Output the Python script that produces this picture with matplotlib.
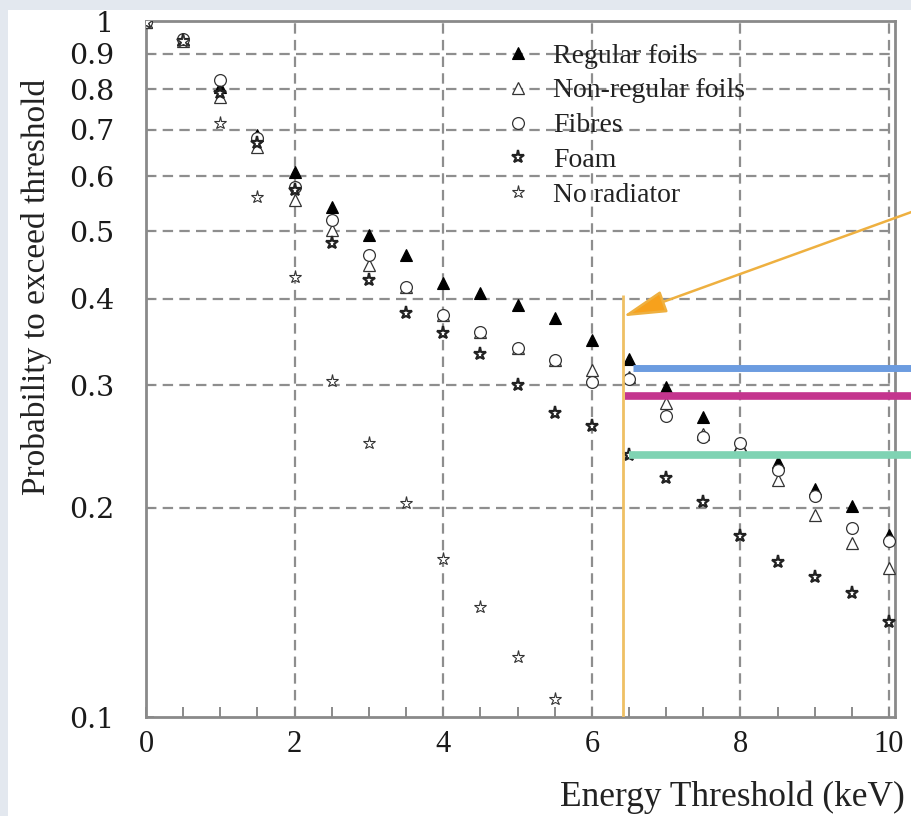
import matplotlib
matplotlib.use("Agg")
import matplotlib.pyplot as plt
from matplotlib.patches import Rectangle

# Energy thresholds (keV)
energy = [0.0, 0.5, 1.0, 1.5, 2.0, 2.5, 3.0, 3.5, 4.0, 4.5, 5.0,
          5.5, 6.0, 6.5, 7.0, 7.5, 8.0, 8.5, 9.0, 9.5, 10.0]

regular_foils = [1.0, 0.945, 0.806, 0.688, 0.609, 0.541, 0.494, 0.462, 0.421, 0.407, 0.392,
                 0.375, 0.349, 0.327, 0.298, 0.270, 0.246, 0.233, 0.213, 0.201, 0.183]
non_regular_foils = [1.0, 0.940, 0.780, 0.661, 0.554, 0.502, 0.447, 0.416, 0.379, 0.358, 0.340,
                     0.326, 0.316, 0.308, 0.283, 0.255, 0.245, 0.219, 0.195, 0.178, 0.164]
fibres = [1.0, 0.945, 0.825, 0.680, 0.579, 0.519, 0.462, 0.416, 0.379, 0.358, 0.340,
          0.326, 0.303, 0.306, 0.271, 0.253, 0.248, 0.227, 0.208, 0.187, 0.179]
foam = [1.0, 0.940, 0.790, 0.670, 0.573, 0.480, 0.425, 0.381, 0.357, 0.333, 0.300,
        0.274, 0.262, 0.238, 0.221, 0.204, 0.182, 0.167, 0.159, 0.151, 0.137]
# below 0.1 beyond 5.5 keV (off scale)
energy_no_rad = [0.0, 0.5, 1.0, 1.5, 2.0, 2.5, 3.0, 3.5, 4.0, 4.5, 5.0, 5.5]
no_radiator = [1.0, 0.940, 0.716, 0.560, 0.430, 0.304, 0.248, 0.203, 0.169, 0.144, 0.122, 0.106]

y_ticks = [0.1, 0.2, 0.3, 0.4, 0.5, 0.6, 0.7, 0.8, 0.9, 1.0]
y_tick_labels = ["0.1", "0.2", "0.3", "0.4", "0.5", "0.6", "0.7", "0.8", "0.9", "1"]
x_ticks = [0, 2, 4, 6, 8, 10]

# Threshold marker and reference levels
threshold_x = 6.42
threshold_top = 0.405
level_blue = 0.318
level_magenta = 0.290
level_green = 0.238

plt.rcParams["lines.scale_dashes"] = False

fig = plt.figure(figsize=(9.11, 8.16), dpi=100, facecolor="white")
W, H = 911, 816
ax = fig.add_axes([146 / W, 1 - 717 / H, (895 - 146) / W, (717 - 21) / H])

# light frame strips around the panel
for (x0, y0, w, h) in [(0, 808, 911, 8), (0, 0, 8, 816)]:
    fig.patches.append(Rectangle((x0 / W, y0 / H), w / W, h / H, transform=fig.transFigure,
                                 facecolor="#e3e8ef", edgecolor="none", zorder=0))
fig.patches.append(Rectangle((0, 1 - 10 / H), 1, 10 / H, transform=fig.transFigure,
                             facecolor="#e3e8ef", edgecolor="none", zorder=0))

ax.set_yscale("log")
ax.set_xlim(0, 10.08)
ax.set_ylim(0.1, 1.003)

grid_kw = dict(color="#8e8e8e", lw=1.6, dashes=(7.5, 4.5), zorder=1)
for gx in [2, 4, 6, 8, 10]:
    ax.axvline(gx, **grid_kw)
for gy in [0.2, 0.3, 0.4, 0.5, 0.6, 0.7, 0.8, 0.9]:
    ax.axhline(gy, **grid_kw)

ms = 8.5
ax.plot(energy, regular_foils, ls="none", marker="^", ms=ms, mfc="black", mec="black",
        mew=0.8, label="Regular foils", zorder=3)
ax.plot(energy, non_regular_foils, ls="none", marker="^", ms=ms, mfc="white", mec="#333333",
        mew=0.9, label="Non-regular foils", zorder=3)
ax.plot(energy, fibres, ls="none", marker="o", ms=ms, mfc="white", mec="#333333",
        mew=0.9, label="Fibres", zorder=3)
ax.plot(energy, foam, ls="none", marker="*", ms=9.5, mfc="white", mec="#222222",
        mew=1.6, label="Foam", zorder=3)
ax.plot(energy_no_rad, no_radiator, ls="none", marker="*", ms=9.5, mfc="white", mec="#333333",
        mew=0.8, label="No radiator", zorder=3)

# threshold line, arrow and reference levels
ax.plot([threshold_x, threshold_x], [0.1, threshold_top], color="#efc064", lw=2.0,
        solid_capstyle="butt", zorder=4)
ax.annotate("", xy=(threshold_x, 0.377), xytext=(10.35, 0.535), annotation_clip=False,
            arrowprops=dict(arrowstyle="-|>,head_length=1.35,head_width=0.35",
                            mutation_scale=20, color="#eeb040", lw=1.8,
                            fc="#f7a11c", ec="#eeb040", shrinkA=0, shrinkB=0),
            zorder=5)
ax.plot([6.55, 10.6], [level_blue, level_blue], color="#6c9ce0", lw=5, clip_on=False,
        solid_capstyle="butt", zorder=4)
ax.plot([6.45, 10.6], [level_magenta, level_magenta], color="#c4358e", lw=5.5, clip_on=False,
        solid_capstyle="butt", zorder=4)
ax.plot([6.5, 10.6], [level_green, level_green], color="#7fd3b3", lw=5.5, clip_on=False,
        solid_capstyle="butt", zorder=4)

for sp in ax.spines.values():
    sp.set_color("#8a8a8a")
    sp.set_linewidth(2.0)

ax.set_xticks(x_ticks)
ax.set_xticklabels([str(v) for v in x_ticks], fontfamily="Liberation Serif", fontsize=22,
                   color="#1a1a1a")
ax.set_xticks([0.5, 1, 1.5, 2.5, 3, 3.5, 4.5, 5, 5.5, 6.5, 7, 7.5, 8.5, 9, 9.5], minor=True)
ax.set_yticks(y_ticks)
ax.set_yticklabels(y_tick_labels, fontfamily="DejaVu Serif", fontsize=20.5, color="#1a1a1a")
ax.yaxis.set_minor_locator(matplotlib.ticker.NullLocator())
ax.tick_params(axis="x", which="both", direction="in", length=7, width=1.4, color="#8a8a8a",
               pad=9)
ax.tick_params(axis="y", which="both", direction="in", length=6, width=1.4, color="#8a8a8a",
               pad=23)

fig.text(905 / W, 1 - 797 / H, "Energy Threshold (keV)", ha="right", va="center",
         fontfamily="Liberation Serif", fontsize=25.5, color="#222222")
fig.text(37 / W, 1 - 287 / H, "Probability to exceed threshold", ha="center", va="center",
         rotation=90, fontfamily="Liberation Serif", fontsize=24, color="#222222")

leg = ax.legend(loc="upper left", bbox_to_anchor=(492 / W, 1 - 32 / H),
                bbox_transform=fig.transFigure, frameon=False, handlelength=1.1,
                handletextpad=0.7, labelspacing=0.34, borderaxespad=0,
                prop={"family": "Liberation Serif", "size": 20})
for t in leg.get_texts():
    t.set_color("#222222")

fig.savefig("out.png", dpi=100, facecolor=fig.get_facecolor())
